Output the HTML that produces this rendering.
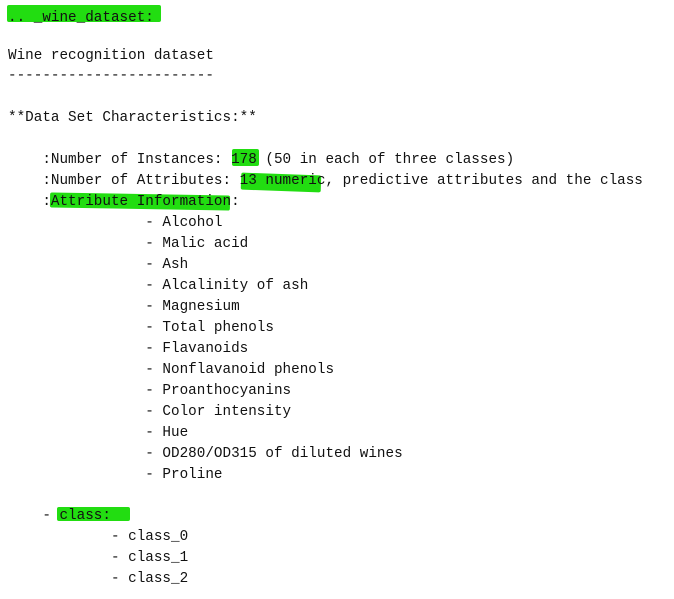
<!DOCTYPE html>
<html><head><meta charset="utf-8"><style>
html,body{margin:0;padding:0;background:#fff;width:674px;height:599px;overflow:hidden;position:relative}
pre{position:absolute;left:8px;margin:0;font-family:"Liberation Mono",monospace;font-size:14.3px;line-height:20.95px;color:#111;z-index:2}
.h{position:absolute;background:#22dd11;z-index:1;border-radius:2px}
</style></head><body>
<div class="h" style="left:7px;top:5px;width:154px;height:17px"></div>
<div class="h" style="left:232px;top:149px;width:27px;height:17px"></div>
<div class="h" style="left:241px;top:174px;width:80px;height:17px;transform:rotate(2deg)"></div>
<div class="h" style="left:50px;top:194px;width:180px;height:15px;transform:rotate(1deg)"></div>
<div class="h" style="left:57px;top:507px;width:73px;height:14px"></div>
<pre style="top:7.5px">.. _wine_dataset:</pre>
<pre style="top:45.5px">Wine recognition dataset
------------------------

**Data Set Characteristics:**

    :Number of Instances: 178 (50 in each of three classes)
    :Number of Attributes: 13 numeric, predictive attributes and the class
    :Attribute Information:
                - Alcohol
                - Malic acid
                - Ash
                - Alcalinity of ash
                - Magnesium
                - Total phenols
                - Flavanoids
                - Nonflavanoid phenols
                - Proanthocyanins
                - Color intensity
                - Hue
                - OD280/OD315 of diluted wines
                - Proline

    - class:
            - class_0
            - class_1
            - class_2</pre>
</body></html>
